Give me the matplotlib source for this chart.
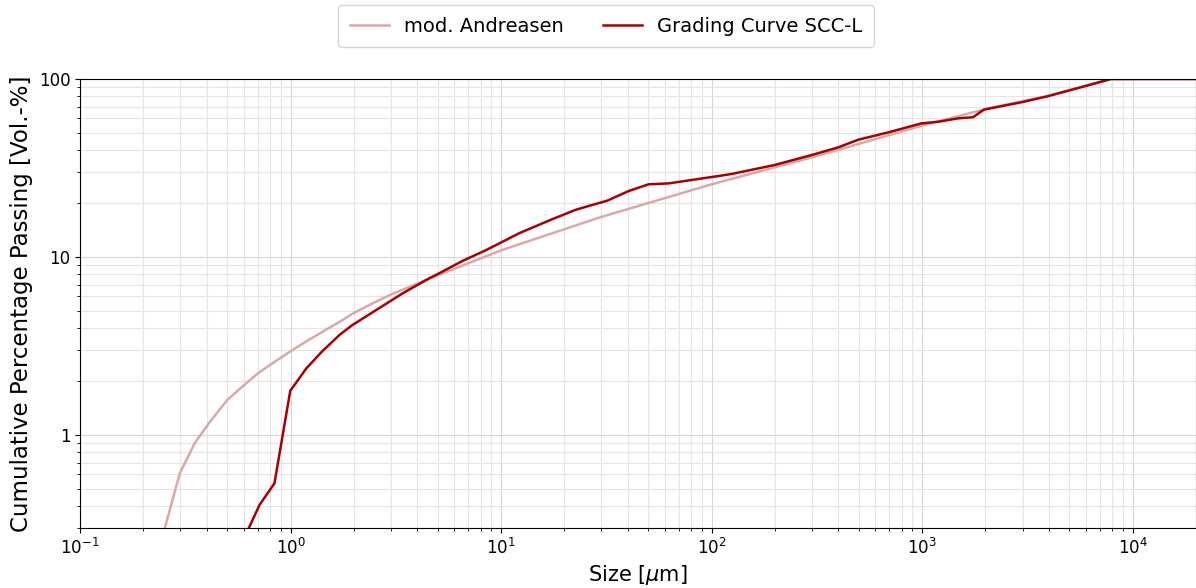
import numpy as np
import matplotlib
matplotlib.use('Agg')
import matplotlib.pyplot as plt
from matplotlib.ticker import FuncFormatter, NullFormatter, LogLocator

# mod. Andreasen curve
size_andreasen = [0.214, 0.253, 0.298, 0.351, 0.413, 0.5, 0.6, 0.7, 0.85, 1.0, 1.2,
                  1.5, 1.7, 2.0, 2.5, 3.0, 4.4, 10, 30, 100, 300, 1000, 2000,
                  4000, 7900, 20000]
pass_andreasen = [0.05, 0.30, 0.61, 0.90, 1.18, 1.57, 1.90, 2.22, 2.60, 2.95, 3.38,
                  3.95, 4.30, 4.85, 5.55, 6.15, 7.43, 10.9, 16.8, 25.6, 36.3, 54.7, 67.8,
                  80.6, 100, 100]

# Grading Curve SCC-L
size_scc = [0.55, 0.634, 0.713, 0.839, 0.997, 1.19, 1.41, 1.71, 1.97, 2.55, 3.41,
            4.56, 5.08, 6.56, 8.45, 12.2, 17.5, 22.6, 27.1, 31.9, 40.5, 50.2,
            62.5, 80.7, 108, 125, 200, 299, 400, 498, 690, 993, 1190, 1483,
            1746, 1968, 2960, 3954, 5900, 7890, 20000]
pass_scc = [0.2, 0.30, 0.405, 0.535, 1.77, 2.37, 2.94, 3.65, 4.15, 5.03, 6.25,
            7.59, 8.09, 9.5, 10.9, 13.6, 16.3, 18.4, 19.6, 20.7, 23.5, 25.6,
            25.9, 27.1, 28.5, 29.3, 32.9, 37.4, 41.3, 45.6, 50.1, 56.3, 57.5, 60.1,
            61.0, 67.3, 74.0, 80.0, 91.0, 100, 100]

fig = plt.figure(figsize=(11.96, 5.88), dpi=100)
ax = fig.add_axes([80/1196, 1-528/588, 1-80/1196, (528-79)/588])

ax.plot(size_andreasen, pass_andreasen, color='#dba8a8', lw=1.8, label='mod. Andreasen')
ax.plot(size_scc, pass_scc, color='#a80000', lw=1.8, label='Grading Curve SCC-L')

ax.set_xscale('log')
ax.set_yscale('log')
ax.set_xlim(0.1, 20000)
ax.set_ylim(0.3, 100)

ax.yaxis.set_major_formatter(FuncFormatter(lambda v, p: f'{v:g}'))
ax.yaxis.set_minor_formatter(NullFormatter())
ax.xaxis.set_minor_locator(LogLocator(subs=np.arange(2, 10)))
ax.tick_params(labelsize=12)

ax.grid(True, which='major', color='#d8d8d8', lw=0.8)
ax.grid(True, which='minor', color='#e4e4e4', lw=0.8)
ax.set_axisbelow(True)

ax.set_xlabel(r'Size [$\mu$m]', fontsize=15, labelpad=4)
ax.set_ylabel('Cumulative Percentage Passing [Vol.-%]', fontsize=16.5)

fig.legend(loc='upper center', bbox_to_anchor=(606/1196, 1-5/588), ncol=2,
           fontsize=14, frameon=True, handlelength=2, columnspacing=2,
           borderaxespad=0, borderpad=0.6)

fig.savefig('out.png', dpi=100)
